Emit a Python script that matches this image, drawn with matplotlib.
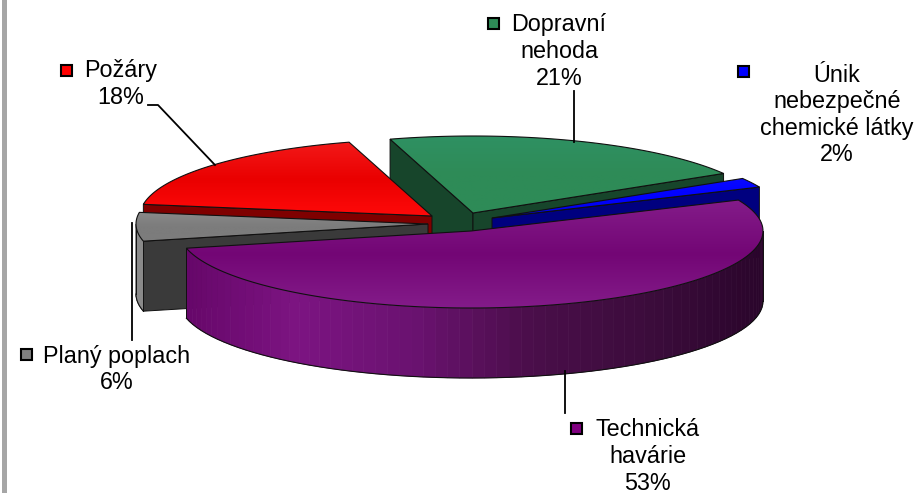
# 3D kolacovy graf - rozlozeny

import matplotlib
matplotlib.use('Agg')
import matplotlib.pyplot as plt
from matplotlib.colors import LinearSegmentedColormap
from matplotlib.path import Path
from matplotlib.patches import PathPatch, Rectangle, Polygon
import numpy as np

plt.rcParams['font.family'] = ['Liberation Sans', 'DejaVu Sans']

# data
names = ['Technická\nhavárie', 'Planý poplach', 'Požáry', 'Dopravní\nnehoda',
         'Únik\nnebezpečné\nchemické látky']
shares = [53, 6, 18, 21, 2]

# vzhled
top_colors = [['#841c8a', '#730675', '#841c8a'], ['#8c8c8c', '#7c7c7c', '#7c7c7c'],
              ['#f31a1a', '#ea0000', '#ff0a0a'], ['#2f9163', '#2e8b57', '#2e8b57'],
              ['#0a0aff', '#0000ff', '#0000e0']]
face_colors = ['#400a40', '#3a3a3a', '#7f0000', '#17452b', '#00007f']
side_stops = [['#650668', '#7c1482', '#6a1270', '#4a0e4a', '#3c0c3c', '#2a052b'],
              ['#8a8a8a', '#555555'], ['#7f0000', '#7f0000'],
              ['#17452b', '#17452b'], ['#00007f', '#00007f']]
apex = [(471, 231), (428, 224), (432, 216), (473, 213), (492, 218)]
layer = [50, 40, 30, 10, 20]  # poradi kresleni odzadu dopredu
rx, ry, depth = 292, 77, 70
start = 23.7

fig = plt.figure(figsize=(9.18, 4.93), dpi=100)
ax = fig.add_axes([0, 0, 1, 1])


def pt(c, ang, dz=0):
    a = np.radians(ang)
    return c[0] + rx * np.cos(a), c[1] - ry * np.sin(a) + dz


def draw_slice(i, a0, a1):
    c = apex[i]
    ang = np.linspace(a0, a1, 120)
    xs, ys = pt(c, ang)
    z = layer[i]

    # radialni steny, jen ty co jsou videt zepredu
    faces = []
    if np.cos(np.radians(a0)) < 0:
        faces.append(a0)
    if np.cos(np.radians(a1)) > 0:
        faces.append(a1)
    for edge in faces:
        e = pt(c, edge)
        ax.add_patch(Polygon([c, e, (e[0], e[1] + depth), (c[0], c[1] + depth)],
                             fc=face_colors[i], ec='#101010', lw=0.7, zorder=z))

    # vnejsi plast, jen spodni cast elipsy
    cmap = LinearSegmentedColormap.from_list('side', side_stops[i])
    vis = ang[np.sin(np.radians(ang)) < 0.001]
    if len(vis) > 1:
        vis = np.linspace(vis[0], vis[-1], 70)
        vx, vy = pt(c, vis)
        span = 2 * rx
        for k in range(len(vis) - 1):
            col = cmap((0.5 * (vx[k] + vx[k + 1]) - (c[0] - rx)) / span)
            ax.add_patch(Polygon([(vx[k], vy[k]), (vx[k + 1], vy[k + 1]),
                                  (vx[k + 1], vy[k + 1] + depth), (vx[k], vy[k] + depth)],
                                 fc=col, ec=col, lw=0.5, zorder=z + 1))
        ax.plot(vx, vy + depth, color='#101010', lw=0.8, zorder=z + 1)
        ax.plot([vx[0], vx[0]], [vy[0], vy[0] + depth], color='#101010', lw=0.7, zorder=z + 1)
        ax.plot([vx[-1], vx[-1]], [vy[-1], vy[-1] + depth], color='#101010', lw=0.7, zorder=z + 1)

    # horni plocha s prechodem
    verts = [c] + list(zip(xs, ys)) + [c]
    codes = [Path.MOVETO] + [Path.LINETO] * (len(verts) - 2) + [Path.CLOSEPOLY]
    path = Path(verts, codes)
    patch = PathPatch(path, fc='none', ec='#101010', lw=0.8, zorder=z + 3)
    ax.add_patch(patch)
    cm_top = LinearSegmentedColormap.from_list('top', top_colors[i])
    grad = np.linspace(0, 1, 64).reshape(-1, 1)
    im = ax.imshow(grad, cmap=cm_top, aspect='auto', zorder=z + 2,
                   extent=(min(xs.min(), c[0]) - 5, max(xs.max(), c[0]) + 5,
                           max(ys.max(), c[1]) + 2, min(ys.min(), c[1]) - 2), origin='upper')
    im.set_clip_path(patch)


angle = start
for i, s in enumerate(shares):
    sweep = s / sum(shares) * 360
    draw_slice(i, angle, angle - sweep)
    angle -= sweep

ax.set_xlim(0, 918)
ax.set_ylim(493, 0)
ax.axis('off')

# levy pruh
ax.add_patch(Rectangle((2, 0), 5, 493, fc='#a6a6a6', ec='none', zorder=1))

# popisky
fs = 16.8
leaders = [[(565, 371), (565, 413)], [(131.5, 223), (131.5, 340)],
           [(148, 105), (158, 105), (215, 165)], [(573.5, 91), (573.5, 142)]]
for seg in leaders:
    p = np.array(seg)
    ax.plot(p[:, 0], p[:, 1], color='black', lw=1.3, zorder=70)

label_pos = [(647.5, 430), (117, 356), (120.5, 71), (559, 25), (837, 75)]
marker_pos = [(576.5, 428), (26.5, 354), (66, 70), (493.5, 23), (743, 71)]
marker_col = ['#800080', '#808080', '#ff0000', '#2e8b57', '#0000ff']
for i, name in enumerate(names):
    lines = name.split('\n') + ['%d%%' % shares[i]]
    x, y = label_pos[i]
    for j, line in enumerate(lines):
        ax.text(x, y + 26.6 * j, line, fontsize=fs, ha='center', va='center', color='black', zorder=71)
    mx, my = marker_pos[i]
    ax.add_patch(Rectangle((mx - 5.5, my - 5.5), 11, 11, fc=marker_col[i], ec='black', lw=1.5, zorder=71))

fig.savefig('out.png', dpi=100)
